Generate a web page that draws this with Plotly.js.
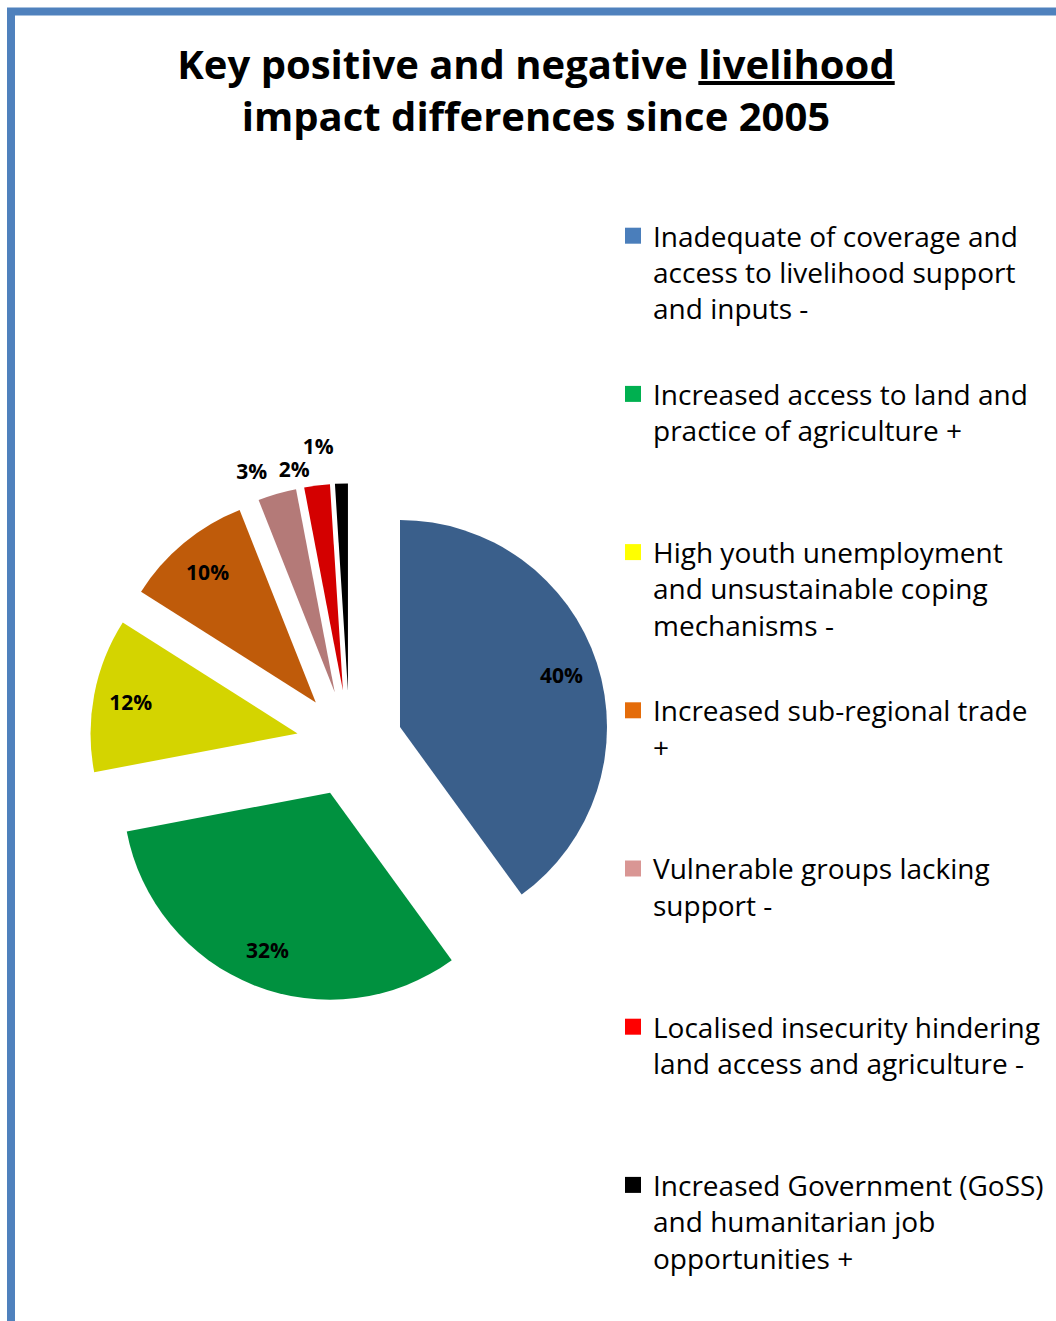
<!DOCTYPE html>
<html>
<head>
<meta charset="utf-8">
<script src="https://cdn.plot.ly/plotly-3.0.1.min.js"></script>
<style>html,body{margin:0;padding:0;background:#fff;}#chart{width:1056px;height:1321px;}</style>
</head>
<body>
<div id="chart"></div>
<script>
// ---- data ----
var categories = [
  "Inadequate of coverage and<br>access to livelihood support<br>and inputs -",
  "Increased access to land and<br>practice of agriculture +<br> ",
  "High youth unemployment<br>and unsustainable coping<br>mechanisms -",
  "Increased sub-regional trade<br>+<br> ",
  "Vulnerable groups lacking<br>support -<br> ",
  "Localised insecurity hindering<br>land access and agriculture -<br> ",
  "Increased Government (GoSS)<br>and humanitarian job<br>opportunities +"
];
var shareValues = [40, 32, 12, 10, 3, 2, 1];
var sliceColors = ["#3A5F8B", "#00913F", "#D4D400", "#BF5B0A", "#B47A78", "#D40000", "#000000"];
var legendColors = ["#4A7EBB", "#00B050", "#FFFF00", "#E46C0A", "#D99694", "#FF0000", "#000000"];
var insideLabelSlices = [true, true, true, true, false, false, false];
var titleText = "Key positive and negative <u>livelihood</u><br>impact differences since 2005";

// ---- styling ----
var FONT = "Open Sans, Liberation Sans, sans-serif";
var LABEL_FONT = {family: FONT, size: 21, color: "#000", weight: "bold"};
var CLEAR = shareValues.map(function () { return "rgba(0,0,0,0)"; });
// extra label distance (px) for the labels of the thin slices, so they do not collide
var thinLabelLift = {4: 10, 5: 3, 6: 24};

// pie geometry (paper pixels)
var W = 1056, H = 1321;
var CX = 349.6, CY = 743.4, HALF = 260, PULL = 0.256;
var PULL_PX = PULL * HALF / (1 + PULL);
function dom(half) {
  return {x: [(CX - half) / W, (CX + half) / W], y: [1 - (CY + half) / H, 1 - (CY - half) / H]};
}

var traces = [];

// main pie (slices)
traces.push({
  type: "pie",
  values: shareValues,
  labels: categories,
  sort: false, direction: "clockwise", rotation: 0,
  pull: PULL,
  marker: {colors: sliceColors, line: {width: 0}},
  textinfo: "none",
  hoverinfo: "label+percent",
  showlegend: false,
  domain: dom(HALF)
});

// inside labels, placed on a transparent ring overlay (near the outer edge)
traces.push({
  type: "pie",
  values: shareValues,
  labels: categories,
  sort: false, direction: "clockwise", rotation: 0,
  pull: PULL,
  hole: 0.64,
  marker: {colors: CLEAR, line: {width: 0}},
  texttemplate: "%{value}%",
  textposition: insideLabelSlices.map(function (b) { return b ? "inside" : "none"; }),
  insidetextorientation: "horizontal",
  textfont: LABEL_FONT, insidetextfont: LABEL_FONT,
  hoverinfo: "skip",
  showlegend: false,
  domain: dom(HALF)
});

// outside labels of the thin slices: one transparent overlay each
insideLabelSlices.forEach(function (isInside, k) {
  if (isInside) return;
  var half = HALF + (thinLabelLift[k] || 0);
  var rr = half - PULL_PX;
  traces.push({
    type: "pie",
    values: shareValues,
    labels: categories,
    sort: false, direction: "clockwise", rotation: 0,
    pull: PULL_PX / rr,
    marker: {colors: CLEAR, line: {width: 0}},
    texttemplate: "%{value}%",
    textposition: shareValues.map(function (v, j) { return j === k ? "outside" : "none"; }),
    textfont: LABEL_FONT, outsidetextfont: LABEL_FONT,
    hoverinfo: "skip",
    showlegend: false,
    domain: dom(half)
  });
});

// legend entries
categories.forEach(function (name, i) {
  traces.push({
    type: "scatter",
    mode: "markers",
    x: [null], y: [null],
    name: name,
    legendgroup: "g" + i,
    marker: {symbol: "square", size: 16, color: legendColors[i]},
    showlegend: true,
    hoverinfo: "skip"
  });
});

var layout = {
  width: W,
  height: H,
  margin: {l: 0, r: 0, t: 0, b: 0},
  paper_bgcolor: "#ffffff",
  plot_bgcolor: "rgba(0,0,0,0)",
  title: {
    text: titleText,
    font: {family: FONT, size: 40, color: "#000", weight: "bold"},
    x: 536 / W, xanchor: "center",
    y: 1 - 79 / H, yanchor: "top",
    xref: "paper", yref: "container"
  },
  xaxis: {visible: false, range: [0, 1]},
  yaxis: {visible: false, range: [0, 1]},
  showlegend: true,
  legend: {
    x: 613 / W, xanchor: "left",
    y: 1 - 211 / H, yanchor: "top",
    bgcolor: "rgba(0,0,0,0)",
    borderwidth: 0,
    font: {family: FONT, size: 28, color: "#000"},
    valign: "top",
    tracegroupgap: 46
  },
  shapes: [{
    type: "rect", xref: "paper", yref: "paper",
    x0: 11 / W, x1: 1.1, y0: 1 - 11.5 / H, y1: -0.1,
    line: {color: "#4F81BD", width: 8},
    fillcolor: "rgba(0,0,0,0)"
  }]
};

Plotly.newPlot("chart", traces, layout, {displayModeBar: false});
</script>
</body>
</html>
